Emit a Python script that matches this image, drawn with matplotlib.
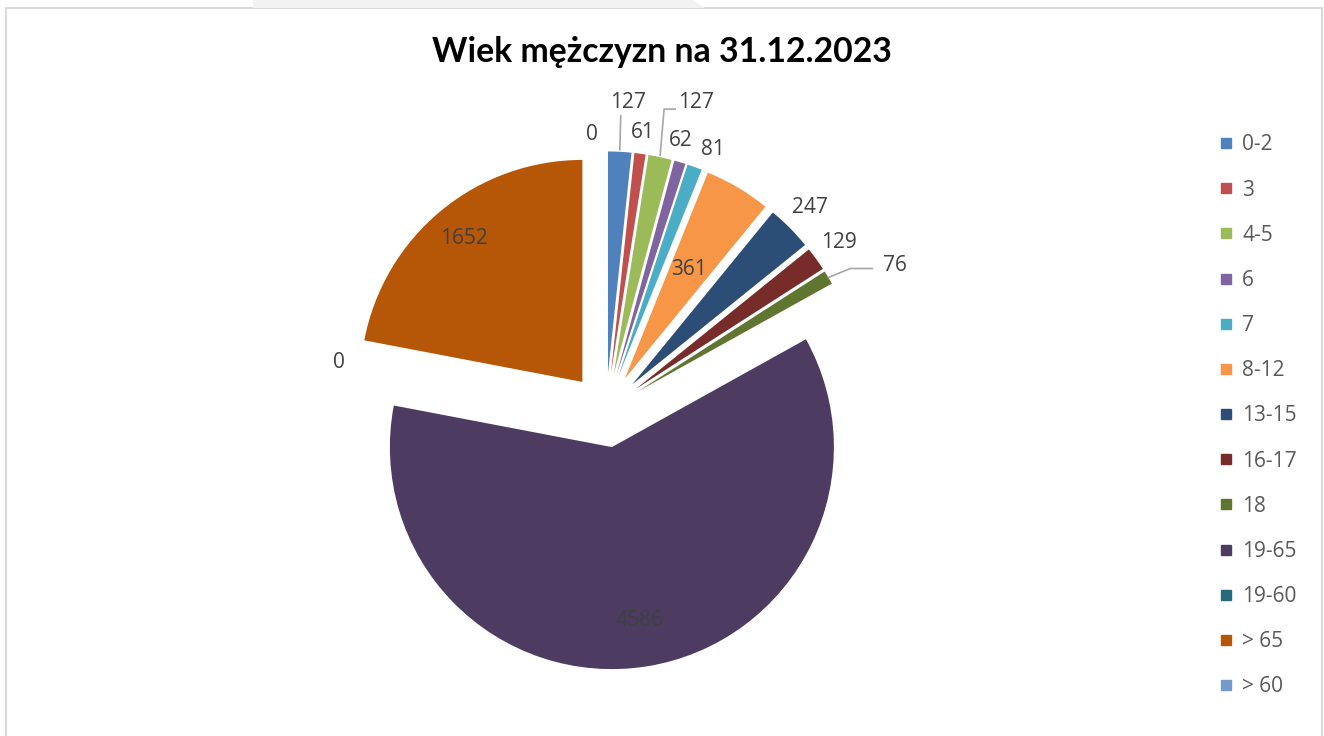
#!/usr/bin/env python3

import numpy as np
import matplotlib.pyplot as plt
from matplotlib.lines import Line2D
from matplotlib.patches import Rectangle, Polygon


categories = ["0-2", "3", "4-5", "6", "7", "8-12", "13-15", "16-17", "18",
              "19-65", "19-60", "> 65", "> 60"]
values = [127, 61, 127, 62, 81, 361, 247, 129, 76, 4586, 0, 1652, 0]
colors = ["#4F81BD", "#C0504D", "#9BBB59", "#8064A2", "#4BACC6", "#F79646",
          "#2C4D75", "#772C2A", "#5F7530", "#4D3B62", "#276A7C", "#B65708",
          "#729ACA"]
title = "Wiek mężczyzn na 31.12.2023"

W, H = 1324, 736
R_PX = 222.0          # pie radius in pixels
CX, CY = 606, 410.5   # pie centre in pixels (from top left)
PX = 1.0 / R_PX       # one pixel in data units

LABEL_FONT = "Open Sans"
LABEL_COLOR = "#404040"
LABEL_SIZE = 15

# labels drawn inside the slice: index -> relative distance from slice centre
inside = {5: 0.57, 9: 0.79, 11: 0.84}
# small nudges (pixels) for labels placed by the default rule
nudge = {12: (-14, -3), 3: (-6, 0), 4: (10, -4), 10: (4, -4)}


def label(x, y, s, ha="center"):
    ax.text(x, y, s, ha=ha, va="center", fontsize=LABEL_SIZE,
            color=LABEL_COLOR, family=LABEL_FONT)


fig = plt.figure(figsize=(W / 100, H / 100), dpi=100)
ax = fig.add_axes([0, 0, 1, 1])

wedges, _ = ax.pie(values, colors=colors, startangle=90, counterclock=False,
                   explode=[0.167] * len(values), radius=1,
                   wedgeprops=dict(linewidth=0))

# pie() sets its own limits, so set ours afterwards
ax.set_xlim(-CX * PX, (W - CX) * PX)
ax.set_ylim(-(H - CY) * PX, CY * PX)
ax.set_aspect("equal")
ax.axis("off")

for i, w in enumerate(wedges):
    mid = np.deg2rad((w.theta1 + w.theta2) / 2)
    cx, cy = w.center
    ux, uy = np.cos(mid), np.sin(mid)
    txt = str(values[i])
    ex, ey = cx + ux, cy + uy   # outer edge of the slice
    if i in inside:
        d = inside[i]
        label(cx + d * ux, cy + d * uy, txt)
    elif i == 0:
        ax.plot([ex, ex + 1 * PX], [ey + 2 * PX, ey + 36 * PX],
                color="#A6A6A6", lw=1.2)
        label(ex + 8 * PX, ey + 49 * PX, txt)
    elif i == 2:
        kx, ky = ex + 4 * PX, ey + 48 * PX
        ax.plot([ex, kx, kx + 11 * PX], [ey + 2 * PX, ky, ky],
                color="#A6A6A6", lw=1.2)
        label(kx + 14 * PX, ky + 7 * PX, txt, ha="left")
    elif i == 8:
        kx, ky = ex + 22 * PX, ey + 9 * PX
        ax.plot([ex, kx, kx + 22 * PX], [ey, ky, ky],
                color="#A6A6A6", lw=1.2)
        label(kx + 33 * PX, ky + 3 * PX, txt, ha="left")
    else:
        # label box edge sits a fixed gap outside the arc
        half_w = 5.3 * len(txt)
        half_h = 10.0
        d = R_PX + 10 + abs(ux) * half_w + abs(uy) * half_h
        lx = cx + d * PX * ux
        ly = cy + d * PX * uy
        if i in nudge:
            lx += nudge[i][0] * PX
            ly += nudge[i][1] * PX
        label(lx, ly, txt)

fig.text(0.5, 1 - 52 / H, title, ha="center", va="center", fontsize=24.3,
         fontweight="bold", family="Lato", color="black")

handles = [Line2D([], [], ls="none", marker="s", markersize=6.5,
                  markerfacecolor=c, markeredgecolor=c) for c in colors]
fig.legend(handles, categories, loc="upper left",
           bbox_to_anchor=(1209 / W, 1 - 124 / H), frameon=False,
           prop=dict(family=LABEL_FONT, size=15), labelcolor="#595959",
           handlelength=0.6, handletextpad=0.5, labelspacing=1.16,
           borderpad=0)

# chart frame and the tab above it
fig.patches.append(Rectangle((6 / W, -0.05), 1316 / W, 1.05 - 8.5 / H,
                             transform=fig.transFigure, fill=False,
                             edgecolor="#D9D9D9", lw=1.5))
fig.patches.append(Polygon([(253 / W, 1), (693 / W, 1), (705 / W, 1 - 8 / H),
                            (253 / W, 1 - 8 / H)], closed=True,
                           transform=fig.transFigure, facecolor="#F2F2F2",
                           edgecolor="none"))

plt.savefig("out.png", dpi=100)
